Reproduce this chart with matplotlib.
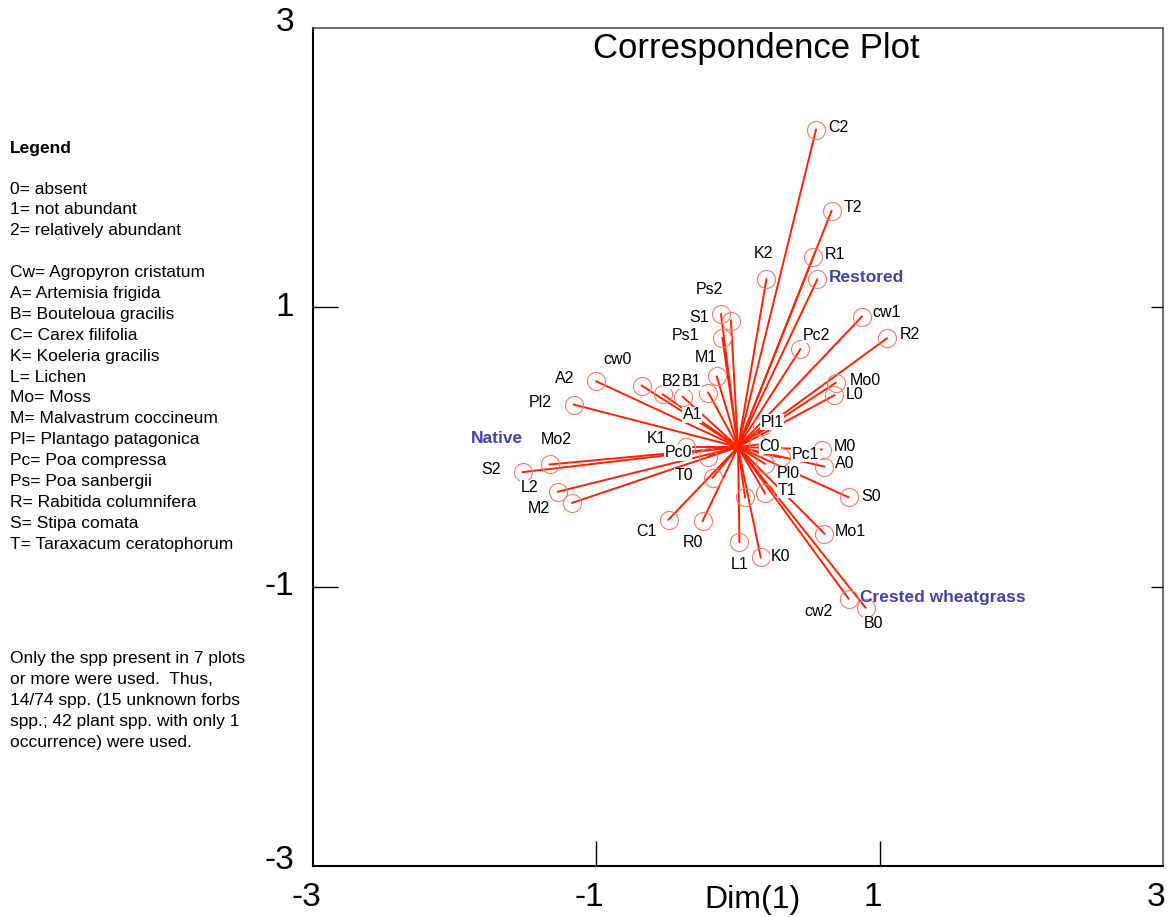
import matplotlib
matplotlib.use("Agg")
from matplotlib import pyplot as plt
import numpy as np

plt.rcParams['font.family'] = ['Liberation Sans', 'DejaVu Sans']

# category points (Dim1, Dim2)
names = ["C2", "T2", "R1", "K2", "cw1", "R2", "Pc2", "Ps2", "S1", "Ps1", "M1",
         "A2", "cw0", "B2", "B1", "A1", "Pl2", "Mo0", "L0", "Pl1", "C0", "M0",
         "Pc1", "A0", "Pl0", "T1", "", "S0", "Mo1", "K0", "L1", "R0", "C1", "T0",
         "Pc0", "K1", "Mo2", "S2", "L2", "M2", "cw2", "B0"]
dim1 = [0.55, 0.66, 0.53, 0.20, 0.875, 1.05, 0.44, -0.12, -0.05, -0.11, -0.15,
        -1.00, -0.68, -0.53, -0.39, -0.21, -1.16, 0.69, 0.68, 0.17, 0.14, 0.59,
        0.30, 0.61, 0.19, 0.19, 0.05, 0.78, 0.61, 0.16, 0.01, -0.25, -0.49, -0.18,
        -0.21, -0.37, -1.33, -1.52, -1.27, -1.17, 0.78, 0.90]
dim2 = [2.27, 1.69, 1.36, 1.20, 0.934, 0.777, 0.70, 0.95, 0.905, 0.78, 0.505,
        0.47, 0.44, 0.376, 0.36, 0.39, 0.304, 0.46, 0.37, 0.147, 0.018, -0.018,
        -0.075, -0.14, -0.12, -0.33, -0.36, -0.36, -0.62, -0.79, -0.68, -0.53, -0.52, -0.22,
        -0.07, 0.0, -0.125, -0.18, -0.32, -0.40, -1.085, -1.15]

# group (supplementary) labels
groups = ["Restored", "Native", "Crested wheatgrass"]
group_x = [0.56, -1.70, 0.78]
group_y = [1.20, 0.06, -1.085]
group_marked = [True, False, False]

legend_lines = ["0= absent", "1= not abundant", "2= relatively abundant", "",
                "Cw= Agropyron cristatum", "A= Artemisia frigida", "B= Bouteloua gracilis",
                "C= Carex filifolia", "K= Koeleria gracilis", "L= Lichen", "Mo= Moss",
                "M= Malvastrum coccineum", "Pl= Plantago patagonica", "Pc= Poa compressa",
                "Ps= Poa sanbergii", "R= Rabitida columnifera", "S= Stipa comata",
                "T= Taraxacum ceratophorum"]
note_lines = ["Only the spp present in 7 plots", "or more were used.  Thus,",
              "14/74 spp. (15 unknown forbs", "spp.; 42 plant spp. with only 1",
              "occurrence) were used."]

# label offsets in pixels (dx right, dy down) from the circle centre
offs = {"C2": (22, -2), "T2": (21, -3), "R1": (22, -3), "K2": (-3, -26), "cw1": (25, -4),
        "R2": (23, -4), "Pc2": (16, -14), "Ps2": (-12, -25), "S1": (-32, -3), "Ps1": (-37, -3),
        "M1": (-11, -19), "A2": (-32, -3), "cw0": (-24, -26), "B2": (9, -13), "B1": (9, -15),
        "A1": (-16, 22), "Pl2": (-33, -2), "Mo0": (30, -2), "L0": (20, -1), "Pl1": (10, -4),
        "C0": (12, 2), "M0": (23, -3), "Pc1": (25, -3), "A0": (20, -3), "Pl0": (23, 10),
        "T1": (22, -3), "S0": (23, -1), "Mo1": (26, -2), "K0": (20, -1), "L1": (0, 23),
        "R0": (-10, 21), "C1": (-22, 12), "T0": (-29, -2), "Pc0": (-30, -4), "K1": (-29, -9),
        "Mo2": (7, -25), "S2": (-32, -3), "L2": (-29, -4), "M2": (-33, 6), "cw2": (-30, 13),
        "B0": (8, 16), "": (0, 0)}
goffs = {"Restored": (12, -2), "Native": (0, 0), "Crested wheatgrass": (12, -1)}

fig = plt.figure(figsize=(11.72, 9.17), dpi=100)
ax = fig.add_axes([313 / 1172, 1 - 866 / 917, 850 / 1172, 838 / 917])
ax.set_xlim(-3, 3)
ax.set_ylim(-3, 3)

line_c = '#ff2200'
circ_c = '#ff7a6a'
all_x = dim1 + [gx for gx, m in zip(group_x, group_marked) if m]
all_y = dim2 + [gy for gy, m in zip(group_y, group_marked) if m]
for px, py in zip(all_x, all_y):
    ax.plot([0, px], [0, py], color=line_c, lw=1.4, zorder=2)
ax.plot(all_x, all_y, 'o', ms=13, mfc='none', mec=circ_c, mew=0.8, zorder=3)

for n, px, py in zip(names, dim1, dim2):
    if not n:
        continue
    dx, dy = offs[n]
    ax.annotate(n, (px, py), xytext=(dx, -dy), textcoords='offset pixels',
                ha='center', va='center', fontsize=11.5, color='black', zorder=4,
                bbox=dict(fc='white', ec='none', pad=0.3))

for g, gx, gy in zip(groups, group_x, group_y):
    dx, dy = goffs[g]
    ax.annotate(g, (gx, gy), xytext=(dx, -dy), textcoords='offset pixels',
                ha='left' if g != "Native" else 'center', va='center', fontsize=12.5,
                fontweight='bold', color='#4343a8', zorder=5)

ax.text(0.13, 0.975, "Correspondence Plot", transform=ax.get_xaxis_transform(),
        fontsize=25, ha='center', va='center')

for s in ['left', 'bottom']:
    ax.spines[s].set_linewidth(1.5)
    ax.spines[s].set_color('black')
for s in ['top', 'right']:
    ax.spines[s].set_linewidth(1.2)
    ax.spines[s].set_color('#555555')

ax.set_xticks([-1, 1])
ax.set_yticks([-1, 1])
ax.tick_params(axis='both', direction='in', length=18, width=1, labelbottom=False,
               labelleft=False)

# short ticks on the right edge
ax2 = ax.twinx()
ax2.set_ylim(-3, 3)
ax2.set_yticks([-1, 1])
ax2.tick_params(axis='y', direction='in', length=9, width=1, labelright=False)
for s in ax2.spines.values():
    s.set_visible(False)

xt = ax.get_xaxis_transform()
yt = ax.get_yaxis_transform()
for v in [-3, -1, 1, 3]:
    ax.text(v - 0.05, -0.037, str(v), transform=xt, ha='center', va='center',
            fontsize=24, clip_on=False)
for v, yy in zip([3, 1, -1, -3], [3.04, 1.0, -1.0, -2.96]):
    ax.text(-0.022, yy, str(v), transform=yt, ha='right', va='center',
            fontsize=24, clip_on=False)
ax.text(0.1, -0.04, "Dim(1)", transform=xt, ha='center', va='center', fontsize=23,
        clip_on=False)

fig.text(10 / 1172, 1 - 148 / 917, "Legend", fontsize=12.5, fontweight='bold', va='center')
for i, t in enumerate(legend_lines):
    fig.text(10 / 1172, 1 - (189 + i * 20.9) / 917, t, fontsize=12.5, va='center')
for i, t in enumerate(note_lines):
    fig.text(10 / 1172, 1 - (659 + i * 20.8) / 917, t, fontsize=12.5, va='center')

fig.savefig("out.png", dpi=100)
